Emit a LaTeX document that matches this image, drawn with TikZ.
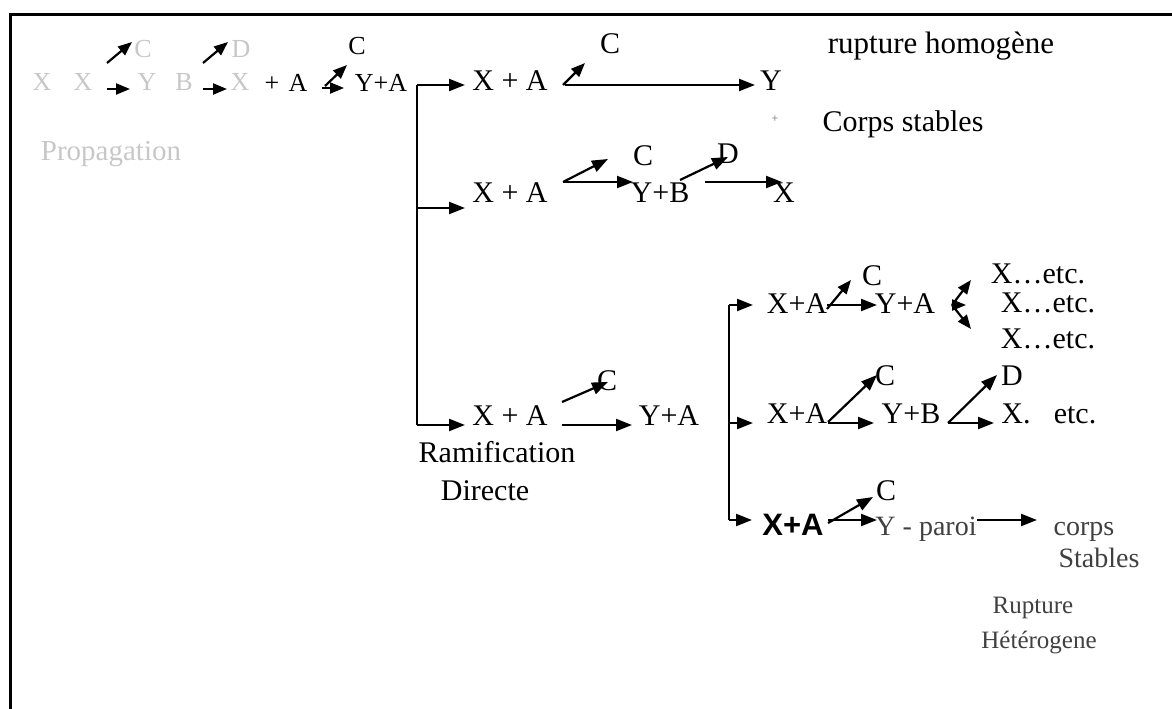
\documentclass[tikz,border=0pt]{standalone}
\usepackage{fontspec}
\setmainfont{Liberation Serif}
\newfontfamily\sansf{Liberation Sans}
\usetikzlibrary{arrows.meta}
\begin{document}
\begin{tikzpicture}[x=1pt,y=-1pt,
  arr/.style={line width=2.2pt,-{Triangle[length=16pt,width=12pt]}},
  sarr/.style={line width=2.2pt,-{Triangle[length=14pt,width=11pt]}},
  brk/.style={line width=2.8pt},
  frame/.style={line width=3pt},
  tx/.style={inner sep=0pt,anchor=base,font=\fontsize{30}{32}\selectfont},
  txs/.style={inner sep=0pt,anchor=base,font=\fontsize{26}{28}\selectfont},
  faint/.style={inner sep=0pt,anchor=base,text=black!22,font=\fontsize{26}{28}\selectfont},
  worn/.style={inner sep=0pt,anchor=base,text=black!75,font=\fontsize{28}{30}\selectfont},
  wsmall/.style={inner sep=0pt,anchor=base,text=black!75,font=\fontsize{25}{27}\selectfont}
]
\useasboundingbox (0,0) rectangle (1172,709);
% frame
\coordinate (fbl) at (10,709);
\coordinate (ftl) at (10,15);
\coordinate (ftr) at (1172,15);
\draw[frame] (fbl) -- (ftl) -- (ftr);

% ---------- row 1 ----------
\node[faint] (f1) at (42,90) {X};
\node[faint] (f2) at (83,90) {X};
\node[faint] (f3) at (147,90) {Y};
\node[faint] (f4) at (184,90) {B};
\node[faint] (f5) at (240,90) {X};
\node[faint] (fC) at (143,57) {C};
\node[faint] (fD) at (241,57) {D};
\node[txs] (p0) at (272,91) {+};
\node[txs] (A0) at (298,92) {A};
\node[txs] (YA0) at (381,92) {Y+A};
\node[txs] (C0) at (357,55) {C};
\node[faint,font=\fontsize{29}{31}\selectfont] (prop) at (111,160) {Propagation};

\coordinate (r1a) at (107,63); \coordinate (r1b) at (132,42);
\coordinate (r1c) at (107,89); \coordinate (r1d) at (130,89);
\coordinate (r1e) at (203,63); \coordinate (r1f) at (228,42);
\coordinate (r1g) at (203,89); \coordinate (r1h) at (227,89);
\coordinate (r1i) at (325,86); \coordinate (r1j) at (347,65);
\coordinate (r1k) at (322,88); \coordinate (r1l) at (344,88);
\draw[sarr] (r1a) -- (r1b);
\draw[sarr] (r1c) -- (r1d);
\draw[sarr] (r1e) -- (r1f);
\draw[sarr] (r1g) -- (r1h);
\draw[sarr] (r1i) -- (r1j);
\draw[sarr] (r1k) -- (r1l);

% ---------- first bracket ----------
\coordinate (b1t) at (417,85);
\coordinate (b1m) at (417,208);
\coordinate (b1b) at (417,425);
\draw[brk] (b1t) -- (b1b);

% branch 1
\node[tx] (XA1) at (510,90) {X + A};
\node[tx] (C1) at (610,53) {C};
\node[tx] (Y1) at (771,90) {Y};
\node[tx,font=\fontsize{31}{33}\selectfont] (rh) at (941,53) {rupture homogène};
\node[inner sep=0pt,anchor=base,text=black!60,font=\fontsize{12}{12}\selectfont] (dot1) at (775,122) {+};
\node[tx] (cs) at (903,131) {Corps stables};
\coordinate (e1a) at (465,85);
\coordinate (e1b) at (563,85); \coordinate (e1c) at (585,63);
\coordinate (e1d) at (565,85); \coordinate (e1e) at (755,85);
\draw[arr] (b1t) -- (e1a);
\draw[sarr] (e1b) -- (e1c);
\draw[arr] (e1d) -- (e1e);

% branch 2
\node[tx] (XA2) at (510,202) {X + A};
\node[tx] (C2) at (643,165) {C};
\node[tx] (YB2) at (660,202) {Y+B};
\node[tx] (D2) at (728,163) {D};
\node[tx] (X2) at (784,202) {X};
\coordinate (e2a) at (465,208);
\coordinate (e2b) at (563,182); \coordinate (e2c) at (608,159);
\coordinate (e2d) at (633,182);
\coordinate (e2e) at (680,180); \coordinate (e2f) at (728,157);
\coordinate (e2g) at (705,182); \coordinate (e2h) at (782,182);
\draw[arr] (b1m) -- (e2a);
\draw[arr] (e2b) -- (e2c);
\draw[arr] (e2b) -- (e2d);
\draw[arr] (e2e) -- (e2f);
\draw[arr] (e2g) -- (e2h);

% branch 3
\node[tx] (XA3) at (510,425) {X + A};
\node[tx] (C3) at (607,390) {C};
\node[tx] (YA3) at (669,425) {Y+A};
\node[tx] (ram) at (497,462) {Ramification};
\node[tx] (dir) at (485,500) {Directe};
\coordinate (e3a) at (465,425);
\coordinate (e3b) at (562,402); \coordinate (e3c) at (608,382);
\coordinate (e3d) at (562,425); \coordinate (e3e) at (632,425);
\draw[arr] (b1b) -- (e3a);
\draw[arr] (e3b) -- (e3c);
\draw[arr] (e3d) -- (e3e);

% ---------- second bracket ----------
\coordinate (b2t) at (729,305);
\coordinate (b2m) at (729,423);
\coordinate (b2b) at (729,520);
\draw[brk] (b2t) -- (b2b);

% branch 4 (top)
\node[tx] (XA4) at (797,313) {X+A};
\node[tx] (C4) at (872,285) {C};
\node[tx] (YA4) at (905,313) {Y+A};
\node[tx] (E1) at (1038,283) {X…etc.};
\node[tx] (E2) at (1048,312) {X…etc.};
\node[tx] (E3) at (1048,348) {X…etc.};
\coordinate (e4a) at (753,305);
\coordinate (e4b) at (827,309); \coordinate (e4c) at (851,280);
\coordinate (e4d) at (827,305); \coordinate (e4e) at (877,305);
\coordinate (e4f) at (952,305);
\coordinate (e4g) at (971,280); \coordinate (e4h) at (966,305); \coordinate (e4i) at (971,329);
\draw[arr] (b2t) -- (e4a);
\draw[sarr] (e4b) -- (e4c);
\draw[arr] (e4d) -- (e4e);
\draw[sarr] (e4f) -- (e4g);
\draw[sarr] (e4f) -- (e4h);
\draw[sarr] (e4f) -- (e4i);

% branch 5 (middle)
\node[tx] (XA5) at (797,423) {X+A};
\node[tx] (C5) at (885,385) {C};
\node[tx] (YB5) at (911,423) {Y+B};
\node[tx] (D5) at (1012,385) {D};
\node[tx] (X5) at (1016,423) {X.};
\node[tx] (etc5) at (1075,423) {etc.};
\coordinate (e5a) at (753,423);
\coordinate (e5b) at (828,422); \coordinate (e5c) at (877,375);
\coordinate (e5d) at (828,423); \coordinate (e5e) at (874,423);
\coordinate (e5f) at (948,423); \coordinate (e5g) at (997,375);
\coordinate (e5h) at (994,423);
\draw[arr] (b2m) -- (e5a);
\draw[arr] (e5b) -- (e5c);
\draw[arr] (e5d) -- (e5e);
\draw[arr] (e5f) -- (e5g);
\draw[arr] (e5f) -- (e5h);

% branch 6 (bottom)
\node[inner sep=0pt,anchor=base,font=\sansf\bfseries\fontsize{31}{33}\selectfont] (XA6) at (793,535) {X+A};
\node[tx] (C6) at (886,500) {C};
\node[worn] (Yp) at (926,535) {Y - paroi};
\node[worn] (corps) at (1084,535) {corps};
\node[worn] (stab) at (1099,567) {Stables};
\node[wsmall] (rup) at (1033,613) {Rupture};
\node[wsmall] (het) at (1039,648) {Hétérogene};
\coordinate (e6a) at (752,520);
\coordinate (e6b) at (828,523); \coordinate (e6c) at (873,497);
\coordinate (e6d) at (828,520); \coordinate (e6e) at (877,520);
\coordinate (e6f) at (977,520); \coordinate (e6g) at (1037,520);
\draw[arr] (b2b) -- (e6a);
\draw[arr] (e6b) -- (e6c);
\draw[arr] (e6d) -- (e6e);
\draw[arr] (e6f) -- (e6g);
\end{tikzpicture}
\end{document}
